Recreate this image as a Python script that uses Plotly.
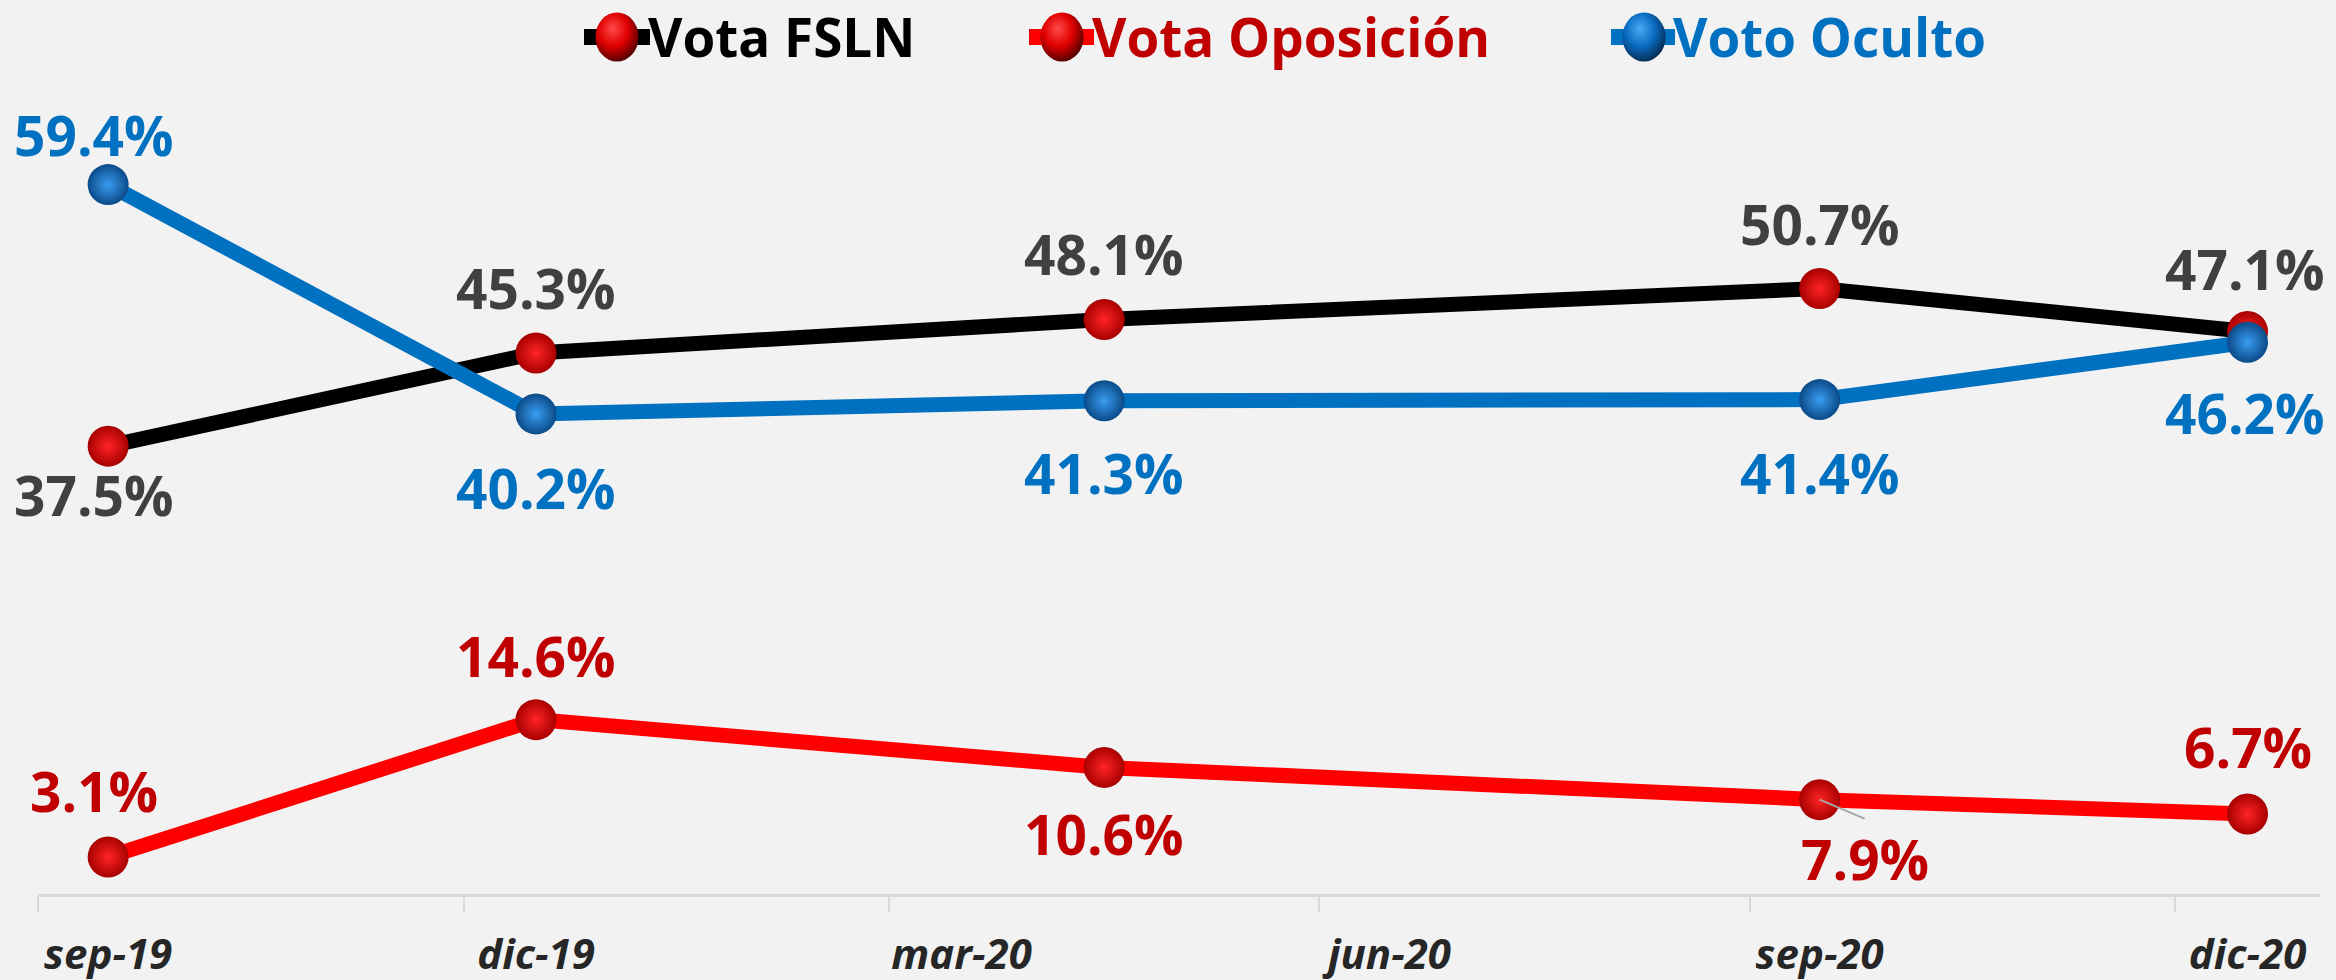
import base64
import pandas as pd
import plotly.graph_objects as go

# Survey months and results (%)
months = ["2019-09", "2019-12", "2020-04", "2020-09", "2020-12"]
vota_fsln = [37.5, 45.3, 48.1, 50.7, 47.1]
vota_oposicion = [3.1, 14.6, 10.6, 7.9, 6.7]
voto_oculto = [59.4, 40.2, 41.3, 41.4, 46.2]

# Axis labels
tick_months = ["2019-09", "2019-12", "2020-03", "2020-06", "2020-09", "2020-12"]
tick_labels = ["sep-19", "dic-19", "mar-20", "jun-20", "sep-20", "dic-20"]
axis_start, axis_end = "2019-09", "2020-12"

FONT = "Open Sans"
W, H = 2336, 980
M_L, M_R, M_T, M_B = 38, 16, 58, 86


def month_start(m):
    return pd.Period(m, freq="M").start_time


def month_mid(m):
    p = pd.Period(m, freq="M")
    s, e = p.start_time, (p + 1).start_time
    return s + (e - s) / 2


def iso(ts):
    return ts.strftime("%Y-%m-%d %H:%M:%S")


x_pts = [iso(month_mid(m)) for m in months]

RED_BALL = dict(edge="#A80000", core="#FF2424", svg=("#FF4A4A", "#E00000", "#5A0000"))
BLUE_BALL = dict(edge="#0A4A88", core="#3A9CF0", svg=("#4AAAF5", "#0A6CC0", "#06305A"))

# Per-series styling; label offsets are pixel shifts from each point
series = [
    dict(name="Vota FSLN", y=vota_fsln, line="#000000", ball=RED_BALL,
         label="#404040", legend_text="#000000",
         shifts=[(-14, 48), (0, -65), (0, -66), (0, -65), (-3, -63)]),
    dict(name="Vota Oposición", y=vota_oposicion, line="#FF0000", ball=RED_BALL,
         label="#C00000", legend_text="#C00000",
         shifts=[(-14, -66), (0, -64), (0, 66), None, (0, -67)]),
    dict(name="Voto Oculto", y=voto_oculto, line="#0070C0", ball=BLUE_BALL,
         label="#0070C0", legend_text="#0070C0",
         shifts=[(-14, -50), (0, 74), (0, 72), (0, 73), (-3, 70)]),
]

fig = go.Figure()
annotations = []

for s in series:
    fig.add_trace(go.Scatter(
        x=x_pts, y=s["y"], mode="lines+markers", name=s["name"],
        line=dict(color=s["line"], width=15),
        marker=dict(size=41, color=s["ball"]["edge"],
                    gradient=dict(type="radial", color=s["ball"]["core"]),
                    line=dict(width=0)),
        hoverinfo="skip", cliponaxis=False,
    ))
    for xi, yi, sh in zip(x_pts, s["y"], s["shifts"]):
        txt = f"{yi:.1f}%"
        font = dict(family=FONT, size=55, color=s["label"], weight="bold")
        if sh is None:
            # label pulled aside with a leader line
            annotations.append(dict(
                x=xi, y=yi, xref="x", yref="y", text=txt, font=font,
                showarrow=True, arrowhead=0, arrowwidth=2,
                arrowcolor="#A6A6A6", ax=45, ay=19, standoff=0,
                xanchor="center", yanchor="top"))
        else:
            annotations.append(dict(
                x=xi, y=yi, xref="x", yref="y", text=txt, font=font,
                showarrow=False, xshift=sh[0], yshift=-sh[1],
                xanchor="center", yanchor="middle"))

# Legend drawn across the top margin
plot_w = W - M_L - M_R
plot_h = H - M_T - M_B


def px_x(p):
    return (p - M_L) / plot_w


def px_y(p):
    return (H - M_B - p) / plot_h


def sphere_uri(hi, mid, lo):
    svg = (
        "<svg xmlns='http://www.w3.org/2000/svg' width='100' height='100'>"
        "<defs><radialGradient id='g' cx='0.42' cy='0.38' r='0.62' fx='0.4' fy='0.32'>"
        f"<stop offset='0' stop-color='{hi}'/>"
        f"<stop offset='0.55' stop-color='{mid}'/>"
        f"<stop offset='1' stop-color='{lo}'/>"
        "</radialGradient></defs>"
        "<ellipse cx='50' cy='50' rx='49' ry='49' fill='url(#g)'/></svg>"
    )
    return "data:image/svg+xml;base64," + base64.b64encode(svg.encode()).decode()


legend_items = [
    # (line start, line end, ball centre) in pixels
    (584, 650, 617),
    (1029, 1094, 1062),
    (1611, 1675, 1644),
]
legend_y = 37
shapes, images = [], []
for s, (a, b, c) in zip(series, legend_items):
    shapes.append(dict(type="line", xref="paper", yref="paper",
                       x0=px_x(a), x1=px_x(b), y0=px_y(legend_y), y1=px_y(legend_y),
                       line=dict(color=s["line"], width=16), layer="below"))
    images.append(dict(source=sphere_uri(*s["ball"]["svg"]),
                       xref="paper", yref="paper",
                       x=px_x(c), y=px_y(legend_y),
                       sizex=44 / plot_w, sizey=50 / plot_h,
                       xanchor="center", yanchor="middle",
                       sizing="stretch", layer="above"))
    annotations.append(dict(
        x=px_x(b - 4), y=px_y(legend_y), xref="paper", yref="paper",
        text=s["name"], showarrow=False, xanchor="left", yanchor="middle",
        font=dict(family=FONT, size=53, color=s["legend_text"], weight="bold")))

fig.update_layout(
    width=W, height=H,
    margin=dict(l=M_L, r=M_R, t=M_T, b=M_B, pad=0, autoexpand=False),
    paper_bgcolor="#F2F2F2", plot_bgcolor="#F2F2F2",
    showlegend=False,
    annotations=annotations, shapes=shapes, images=images,
    xaxis=dict(
        type="date", automargin=False,
        range=[iso(month_start(axis_start)),
               iso(pd.Period(axis_end, freq="M").end_time.ceil("D"))],
        showgrid=False, zeroline=False,
        showline=True, linecolor="#D9D9D9", linewidth=3,
        tickmode="array",
        tickvals=[iso(month_mid(m)) for m in tick_months],
        ticktext=tick_labels,
        ticks="", ticklabelstandoff=22,
        tickfont=dict(family=FONT, size=42, color="#262626",
                      weight="bold", style="italic"),
        minor=dict(tickmode="array",
                   tickvals=[iso(month_start(m)) for m in tick_months],
                   ticks="outside", ticklen=15, tickwidth=2,
                   tickcolor="#D9D9D9", showgrid=False),
        fixedrange=True,
    ),
    yaxis=dict(range=[0, 70], visible=False, fixedrange=True, automargin=False),
)

fig.write_html("out.html", config={"displayModeBar": False})
